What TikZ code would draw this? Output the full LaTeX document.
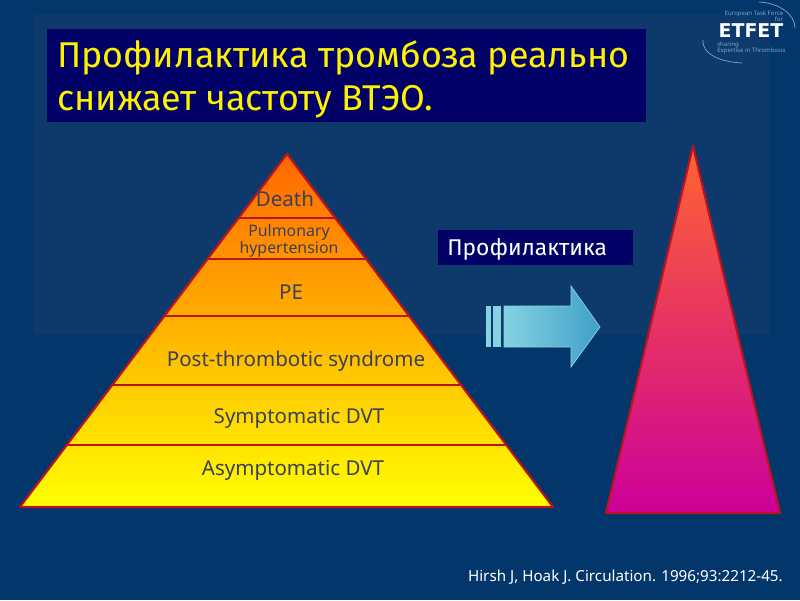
\documentclass[tikz,border=0pt]{standalone}
\usepackage{fontspec}
\setmainfont{Noto Sans}
\newfontfamily\titlefont{Fira Sans}
\newfontfamily\logofont{DejaVu Sans}
\usepackage{tikz}
\usetikzlibrary{arrows.meta, positioning, calc}
\definecolor{slide_bg}{HTML}{03366B}
\definecolor{slide_in}{HTML}{0D3A6A}
\definecolor{box_navy}{HTML}{000066}
\definecolor{pyr_red}{HTML}{BE1220}
\definecolor{pyr_ink}{HTML}{3C4058}
\definecolor{pyr_top}{HTML}{FF6600}
\definecolor{pyr_mid}{HTML}{FFB400}
\definecolor{peak_top}{HTML}{FF6430}
\definecolor{peak_low}{HTML}{CC0099}
\definecolor{arrow_lt}{HTML}{86D2E2}
\definecolor{arrow_dk}{HTML}{3FA0C8}
\definecolor{logo_blue}{HTML}{7FA6CC}
\tikzset{
    level_text/.style={text=pyr_ink, font=\fontsize{14.6}{18}\selectfont, inner sep=0pt, align=center},
    small_text/.style={text=pyr_ink, font=\fontsize{11.3}{10.8}\selectfont, inner sep=0pt, align=center},
    pyr_line/.style={draw=pyr_red, line width=1.5pt, line join=round},
    logo_text/.style={text=logo_blue, inner sep=0pt, font=\fontsize{4.3}{5}\selectfont}
}

\begin{document}
\begin{tikzpicture}[x=0.025cm, y=-0.025cm]
            % Background
            \useasboundingbox (0,0) rectangle (800,600);
            \fill [slide_bg] (0,0) rectangle (800,600);
            \fill [slide_in] (33,15) rectangle (770,335);

            % Title
            \fill [box_navy] (47,29) rectangle (646,122);
            \node (title) [text=yellow, font=\titlefont\fontsize{25.5}{30.6}\selectfont, align=left, anchor=west, inner sep=0pt] at (57,79)
                {Профилактика тромбоза реально\\снижает частоту ВТЭО.};

            % Main pyramid
            \coordinate (apex) at (287,154);
            \coordinate (base_l) at (20,507);
            \coordinate (base_r) at (553,507);
            \shade [top color=pyr_top, bottom color=yellow, middle color=pyr_mid] (apex) -- (base_l) -- (base_r) -- cycle;
            \foreach \ylev in {218,259,316,385,445} {
                \draw [pyr_line] ($(apex)!{(\ylev-154)/353}!(base_l)$) -- ($(apex)!{(\ylev-154)/353}!(base_r)$);
            }
            \draw [pyr_line] (apex) -- (base_l) -- (base_r) -- cycle;

            % Level labels
            \node (death) [level_text] at (285,199) {Death};
            \node (pulm) [small_text] at (289,241) {Pulmonary\\hypertension};
            \node (pe) [level_text] at (291,292) {PE};
            \node (pts) [level_text] at (296,361) {Post-thrombotic syndrome};
            \node (sdvt) [level_text] at (299,418) {Symptomatic DVT};
            \node (advt) [level_text] at (293,470) {Asymptomatic DVT};

            % Label and arrow
            \fill [box_navy] (438,230) rectangle (633,265);
            \node (prof) [text=white, font=\titlefont\fontsize{16.2}{18}\selectfont, anchor=west, inner sep=0pt] at (447,249) {Профилактика};
            \fill [arrow_lt] (486,306) rectangle (491,347);
            \fill [arrow_lt] (493,306) rectangle (501,347);
            \shade [left color=arrow_lt, right color=arrow_dk, draw=arrow_lt, line width=0.5pt]
                (504,306) -- (571,306) -- (571,286) -- (600,327) -- (571,367) -- (571,347) -- (504,347) -- cycle;

            % Reduced pyramid
            \shade [top color=peak_top, bottom color=peak_low] (693,146) -- (606,513) -- (780,513) -- cycle;
            \draw [pyr_line] (693,146) -- (606,513) -- (780,513) -- cycle;

            % Logo
            \draw [logo_blue, line width=0.5pt] (759,2) .. controls (780,3) and (795,15) .. (795,28);
            \draw [logo_blue, line width=0.5pt] (703,40) .. controls (702,55) and (722,62) .. (742,63);
            \node (logo_top) [logo_text] at (754,14) {European Task Force};
            \node (logo_for) [logo_text] at (779,19.5) {for};
            \node (logo_name) [text=white, font=\logofont\bfseries\fontsize{13.5}{14}\selectfont, inner sep=0pt] at (751,31) {ETFET};
            \node (logo_sha) [logo_text, anchor=west] at (717,44.5) {sharing};
            \node (logo_exp) [logo_text, anchor=west] at (717,51) {Expertise in Thrombosis};

            % Citation
            \node (cite) [text=white, font=\fontsize{10.8}{12}\selectfont, anchor=east, inner sep=0pt] at (783,577) {Hirsh J, Hoak J. Circulation. 1996;93:2212-45.};
\end{tikzpicture}
\end{document}
